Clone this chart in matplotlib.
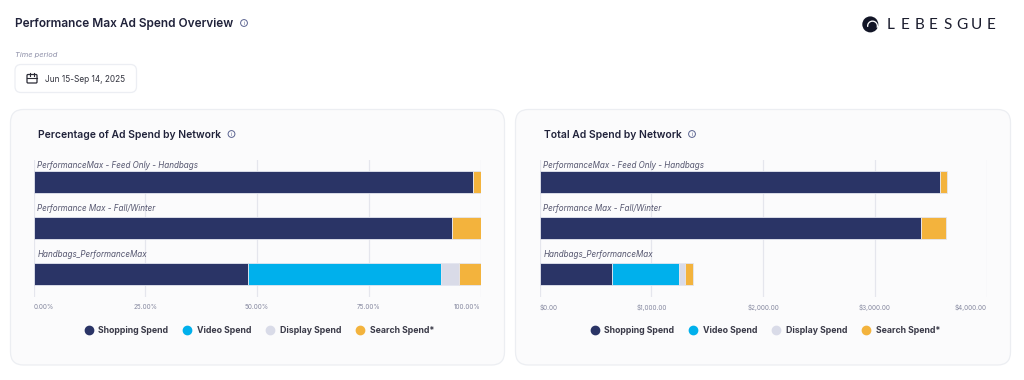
import numpy as np
from matplotlib import pyplot as plt
from matplotlib.patches import FancyBboxPatch, Circle, Wedge
from matplotlib.lines import Line2D

W, H = 1024, 380

campaigns = ['PerformanceMax - Feed Only - Handbags', 'Performance Max - Fall/Winter', 'Handbags_PerformanceMax']
networks = ['Shopping Spend', 'Video Spend', 'Display Spend', 'Search Spend*']
colors = ['#2a3466', '#00b0ec', '#d9dbe8', '#f3b33d']

# percentuais
pct_shopping = [98.3, 93.7, 48.0]
pct_video = [0, 0, 43.2]
pct_display = [0, 0, 4.0]
pct_search = [1.7, 6.3, 4.8]

# valores em dolares
usd_shopping = [3582, 3416, 650]
usd_video = [0, 0, 600]
usd_display = [0, 0, 53]
usd_search = [60, 217, 66]

pct_ticks = [0, 25, 50, 75, 100]
usd_ticks = [0, 1000, 2000, 3000, 4000]

plt.rcParams['font.family'] = ['Inter', 'DejaVu Sans']
DARK = '#20223a'


def card(bg, x, y, w, h, r, face, edge):
    bg.add_patch(FancyBboxPatch((x + r, y + r), w - 2 * r, h - 2 * r, boxstyle=f'round,pad={r},rounding_size={r}',
                                fc=face, ec=edge, lw=0.9))


def info_icon(bg, x, y):
    bg.add_patch(Circle((x, y), 3.4, fc='none', ec='#5a6390', lw=0.7))
    bg.text(x, y + 0.2, 'i', fontsize=4, color='#5a6390', ha='center', va='center')


def plot_stacked(left, series, ticks, labels, right_pad_max):
    ax = fig.add_axes([left / W, 1 - 297 / H, 447 / W, 137 / H])
    ax.set_facecolor('none')
    y = np.arange(len(campaigns))
    base = np.zeros(len(campaigns))
    for vals, c in zip(series, colors):
        vals = np.array(vals, dtype=float)
        ax.barh(y, vals, left=base, height=0.48, color=c, edgecolor='#e4e6f0', linewidth=0.6, zorder=3)
        base += vals
    ax.set_xlim(0, right_pad_max)
    ax.set_ylim(2.5, -0.48)
    ax.set_yticks([])
    ax.set_xticks(ticks)
    ax.set_xticklabels(labels, fontsize=4.6, color='#85889f')
    ax.tick_params(axis='x', length=0, pad=4.8)
    # o primeiro e o ultimo rotulo ficam dentro do eixo
    tl = ax.get_xticklabels()
    tl[0].set_ha('left')
    tl[-1].set_ha('right')
    ax.grid(axis='x', color='#e5e6ed', lw=0.9, zorder=0)
    for s in ax.spines.values():
        s.set_visible(False)
    for i, name in enumerate(campaigns):
        # o primeiro rotulo fica mais perto da barra
        dy = 8.6 if i == 0 else 10.8
        ax.annotate(name, (0, i), xytext=(2.6, dy), textcoords='offset points', fontsize=5.8, style='italic',
                    color='#55566f', va='bottom', zorder=4)
    handles = [Line2D([], [], ls='none', marker='o', ms=6, color=c) for c in colors]
    leg = ax.legend(handles, networks, loc='upper center', bbox_to_anchor=(0.5, -0.152), ncol=4, frameon=False,
                    fontsize=6.3, handletextpad=0.1, columnspacing=1.17, labelcolor='#3a3a48')
    for t in leg.get_texts():
        t.set_fontweight('bold')
    return ax


fig = plt.figure(figsize=(W / 100, H / 100), dpi=100, facecolor='white')

# fundo em coordenadas de pixel
bg = fig.add_axes([0, 0, 1, 1])
bg.set_xlim(0, W)
bg.set_ylim(H, 0)
bg.axis('off')

bg.text(15, 23.5, 'Performance Max Ad Spend Overview', fontsize=8.55, fontweight='semibold', color=DARK, va='center')
info_icon(bg, 244, 23)
bg.text(15, 54.5, 'Time period', fontsize=5.4, style='italic', color='#8d8fa8', va='center')
card(bg, 15, 64.5, 121.5, 28, 6, 'white', '#eceef3')
bg.text(45, 79, 'Jun 15-Sep 14, 2025', fontsize=5.95, color='#33343f', va='center')
# icone do calendario
card(bg, 27, 74.5, 10, 8.5, 1, 'none', '#2b2c36')
bg.plot([27, 37], [77.5, 77.5], color='#2b2c36', lw=0.8)
bg.plot([29.7, 29.7], [73, 75.5], color='#2b2c36', lw=0.8)
bg.plot([34.3, 34.3], [73, 75.5], color='#2b2c36', lw=0.8)

# logo
bg.add_patch(Circle((870.3, 24.4), 8, fc='#121526', ec='none'))
bg.add_patch(Wedge((872.5, 26), 5.5, 170, 20, width=1.3, fc='white', ec='none'))
bg.add_patch(Circle((872.5, 27.5), 3.2, fc='#121526', ec='none'))
for i, ch in enumerate('LEBESGUE'):
    bg.text(890.3 + i * 14.35, 25, ch, fontsize=11, color='#1b1d2e', ha='center', va='center',
            family=['Lato', 'DejaVu Sans'])

card(bg, 10.5, 109.5, 494, 255.5, 13, '#fbfbfc', '#eceef2')
card(bg, 515.5, 109.5, 495, 255.5, 13, '#fbfbfc', '#eceef2')
bg.text(38, 134.5, 'Percentage of Ad Spend by Network', fontsize=7.45, fontweight='semibold', color=DARK, va='center')
info_icon(bg, 231.5, 134)
bg.text(544.5, 134.5, 'Total Ad Spend by Network', fontsize=7.45, fontweight='semibold', color=DARK, va='center')
info_icon(bg, 692, 134)

plot_stacked(33.6, [pct_shopping, pct_video, pct_display, pct_search], pct_ticks,
             [f'{v:.2f}%' for v in pct_ticks], 100)
plot_stacked(539.6, [usd_shopping, usd_video, usd_display, usd_search], usd_ticks,
             [f'${v:,.2f}' for v in usd_ticks], 4000)

fig.savefig('out.png', dpi=100)
